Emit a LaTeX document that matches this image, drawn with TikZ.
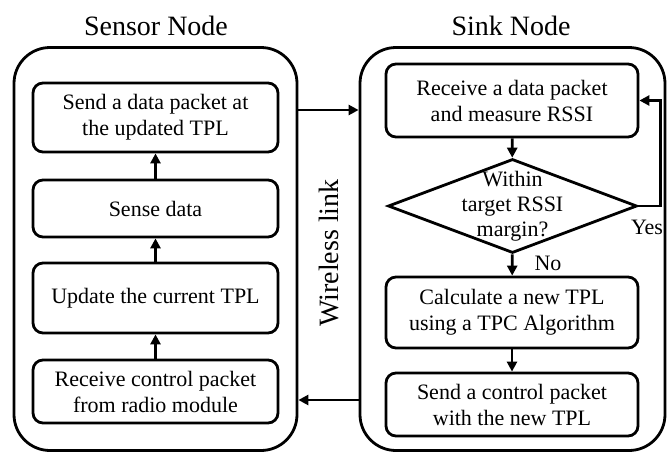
\documentclass[tikz,border=0pt]{standalone}
\usepackage{fontspec}
\setmainfont{Liberation Serif}
\usetikzlibrary{shapes.geometric,arrows.meta}
\begin{document}
\begin{tikzpicture}[x=1pt,y=-1pt,
  lw/.style={line width=2.8pt},
  arr/.style={lw,-{Triangle[length=10pt,width=10pt]}},
  outer/.style={draw,lw,rounded corners=36pt,inner sep=0pt},
  stepbox/.style={draw,lw,rounded corners=10pt,align=center,inner sep=0pt,
    font=\fontsize{22}{26}\selectfont},
  title/.style={font=\fontsize{28}{32}\selectfont},
  txt/.style={font=\fontsize{22}{25}\selectfont,align=center,inner sep=0pt}]
\useasboundingbox (0,0) rectangle (667,453);
% titles
\node[title] (t1) at (156,26) {Sensor Node};
\node[title] (t2) at (511,26) {Sink Node};
% outer boxes
\node[outer,minimum width=283pt,minimum height=403pt] (lout) at (155.5,249) {};
\node[outer,minimum width=305pt,minimum height=403pt] (rout) at (512.5,249) {};
% sensor node steps
\node[stepbox,minimum width=245pt,minimum height=69pt] (s1) at (155.5,117.5) {Send a data packet at\\the updated TPL};
\node[stepbox,minimum width=245pt,minimum height=57pt] (s2) at (155.5,208.5) {Sense data};
\node[stepbox,minimum width=245pt,minimum height=70pt] (s3) at (155.5,298) {Update the current TPL};
\node[stepbox,minimum width=245pt,minimum height=63pt] (s4) at (155.5,391.5) {Receive control packet\\from radio module};
\draw[arr] (s4) -- (s3);
\draw[arr] (s3) -- (s2);
\draw[arr] (s2) -- (s1);
% sink node steps
\node[stepbox,minimum width=252pt,minimum height=73pt] (a) at (512,100.5) {Receive a data packet\\and measure RSSI};
\node[draw,lw,diamond,minimum width=249pt,minimum height=94pt,inner sep=0pt] (dec) at (512.5,206) {};
\node[txt] (dect) at (dec.center) {Within\\target RSSI\\margin?};
\node[stepbox,minimum width=252pt,minimum height=71pt] (c) at (512,312.5) {Calculate a new TPL\\using a TPC Algorithm};
\node[stepbox,minimum width=252pt,minimum height=63pt] (d) at (512,404.5) {Send a control packet\\with the new TPL};
\draw[arr] (a) -- (dec);
\draw[arr] (dec) -- (c);
\draw[arr] (c) -- (d);
\draw[arr] (dec.east) -- ++(22,0) |- (a.east);
\node[txt] (yes) at (647,227) {Yes};
\node[txt] (no) at (548,263) {No};
% wireless link
\coordinate (w1) at (0,110);
\coordinate (w2) at (0,400);
\draw[arr] (lout.east |- w1) -- (rout.west |- w1);
\draw[arr] (rout.west |- w2) -- (lout.east |- w2);
\node[title,rotate=90] (wl) at (329,253) {Wireless link};
\end{tikzpicture}
\end{document}
